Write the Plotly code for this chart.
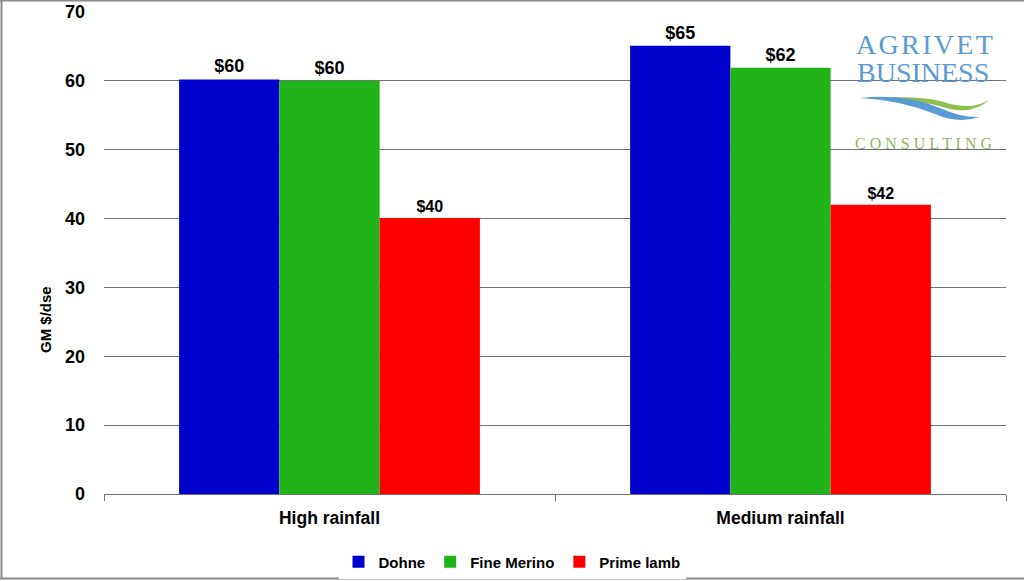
import plotly.graph_objects as go

categories = ["High rainfall", "Medium rainfall"]
series_names = ["Dohne", "Fine Merino", "Prime lamb"]
dohne = [60.2, 65.1]
fine_merino = [60.0, 61.9]
prime_lamb = [40.1, 42.0]
labels_dohne = ["$60", "$65"]
labels_fine = ["$60", "$62"]
labels_prime = ["$40", "$42"]
y_ticks = [0, 10, 20, 30, 40, 50, 60, 70]

W, H = 1024, 581
L, R, T, B = 104, 18, 12, 87
PW, PH = W - L - R, H - T - B


def px(x):
    return (x - L) / PW


def py(y):
    return (H - B - y) / PH


colors = ["#0000CC", "#20B41A", "#FF0000"]
fig = go.Figure()
for name, vals, labs, col, fs in [
    (series_names[0], dohne, labels_dohne, colors[0], 18),
    (series_names[1], fine_merino, labels_fine, colors[1], 18),
    (series_names[2], prime_lamb, labels_prime, colors[2], 16),
]:
    fig.add_trace(go.Bar(
        x=categories, y=vals, name=name, marker_color=col,
        marker_line_width=0,
        text=labs, textposition="outside", cliponaxis=False,
        textfont=dict(family="Liberation Sans, Arial", size=fs, color="black", weight="bold"),
    ))

font_b = dict(family="Liberation Sans, Arial", color="black", weight="bold")

fig.update_layout(
    width=W, height=H,
    margin=dict(l=L, r=R, t=T, b=B, autoexpand=False),
    paper_bgcolor="white", plot_bgcolor="white",
    barmode="group", bargap=0.333, bargroupgap=0,
    showlegend=True,
    legend=dict(orientation="h", xref="container", yref="container",
                x=512 / W, xanchor="center", y=1 - 562 / H, yanchor="middle",
                font=dict(size=15, **font_b), itemwidth=30, traceorder="normal"),
)
fig.update_yaxes(range=[0, 70], tickvals=y_ticks, showgrid=True, gridcolor="#707070", gridwidth=1,
                 zeroline=False, showline=False, ticks="", ticklabelstandoff=18, automargin=False,
                 tickfont=dict(size=18, **font_b))
fig.update_xaxes(showline=True, linecolor="#707070", linewidth=1, ticks="outside", ticklen=6,
                 tickcolor="#707070", tickson="boundaries", tickfont=dict(size=17.5, **font_b),
                 ticklabelstandoff=8, automargin=False)

# y-axis title
fig.add_annotation(text="GM $/dse", x=px(45), y=py(320), xref="paper", yref="paper",
                   xanchor="center", yanchor="middle",
                   textangle=-90, showarrow=False, font=dict(size=15, **font_b))

# figure border (top, left, bottom)
for x0, y0, x1, y1 in [(0, 0.5, 1024, 0.5), (1.5, 0, 1.5, 579), (0, 578.5, 1024, 578.5)]:
    fig.add_shape(type="line", xref="paper", yref="paper", x0=px(x0), y0=py(y0), x1=px(x1), y1=py(y1),
                  line=dict(color="#8a8a8a", width=2))

# logo
serif = "Liberation Serif, DejaVu Serif, serif"
hs = "\u200a"
fig.add_annotation(text=hs.join("AGRIVET"), x=px(924), y=py(45), xref="paper", yref="paper",
                   xanchor="center", yanchor="middle",
                   showarrow=False, font=dict(family=serif, size=28, color="#5B9BD5"))
fig.add_annotation(text="BUSINESS", x=px(923), y=py(72), xref="paper", yref="paper",
                   xanchor="center", yanchor="middle",
                   showarrow=False, font=dict(family=serif, size=28, color="#5B9BD5"))
fig.add_annotation(text=" ".join("CONSULTING"), x=px(923), y=py(143), xref="paper", yref="paper",
                   xanchor="center", yanchor="middle",
                   showarrow=False, font=dict(family=serif, size=16, color="#93B560"))


def path(points):
    s = ""
    for cmd, pts in points:
        s += cmd + " " + " ".join(f"{px(a):.5f},{py(b):.5f}" for a, b in pts) + " "
    return s + "Z"


green_path = path([("M", [(885, 97)]), ("Q", [(930, 96), (950, 104)]), ("Q", [(975, 110), (990, 99)]),
                   ("Q", [(975, 114), (950, 109)]), ("Q", [(920, 100), (885, 97)])])
blue_path = path([("M", [(860, 98)]), ("Q", [(905, 93), (940, 108)]), ("Q", [(962, 118), (980, 117)]),
                  ("Q", [(958, 124), (935, 114)]), ("Q", [(900, 100), (860, 98)])])
fig.add_shape(type="path", xref="paper", yref="paper", path=green_path,
              fillcolor="#8DC04A", line=dict(width=0))
fig.add_shape(type="path", xref="paper", yref="paper", path=blue_path,
              fillcolor="#5B9BD5", line=dict(width=0))

fig.write_html("out.html")
